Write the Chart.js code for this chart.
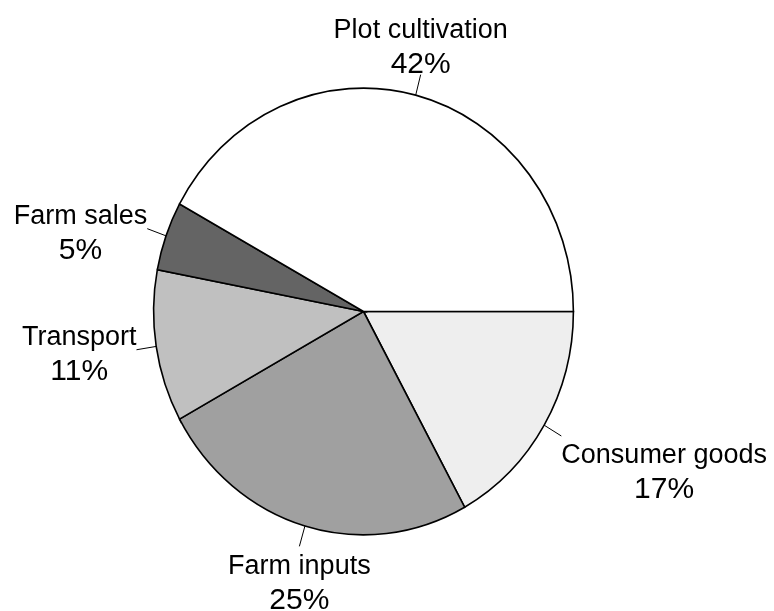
<!DOCTYPE html>
<html>
<head>
<meta charset="utf-8">
<script src="https://cdn.jsdelivr.net/npm/chart.js@4.4.0/dist/chart.umd.min.js"></script>
<style>
  html, body { margin: 0; padding: 0; background: #fff; }
  #wrap { width: 774px; height: 611px; position: relative; }
</style>
</head>
<body>
<div id="wrap"><canvas id="pie" width="774" height="611"></canvas></div>
<script>
// slices in the order they run counterclockwise from 3 o'clock
var categories = ['Plot cultivation', 'Farm sales', 'Transport', 'Farm inputs', 'Consumer goods'];
var shares = [42, 5, 11, 25, 17];
var fills = ['#ffffff', '#646464', '#c0c0c0', '#a0a0a0', '#eeeeee'];

// pie is drawn a bit taller than wide in the reference
var stretchY = 1.064;

// Chart.js goes clockwise, so feed it reversed
var labels = categories.slice().reverse();
var values = shares.slice().reverse();
var colors = fills.slice().reverse();

var stretchPlugin = {
    id: 'stretch',
    beforeDatasetsDraw: function(chart) {
        var arc = chart.getDatasetMeta(0).data[0];
        var ctx = chart.ctx;
        ctx.save();
        ctx.translate(arc.x, arc.y);
        ctx.scale(1, stretchY);
        ctx.translate(-arc.x, -arc.y);
    },
    afterDatasetsDraw: function(chart) {
        chart.ctx.restore();
    }
};

var labelPlugin = {
    id: 'outerLabels',
    afterDraw: function(chart) {
        var ctx = chart.ctx;
        var meta = chart.getDatasetMeta(0);
        var total = values.reduce(function(a, b) { return a + b; }, 0);
        meta.data.forEach(function(arc, i) {
            var mid = (arc.startAngle + arc.endAngle) / 2;
            var r = arc.outerRadius;
            var c = Math.cos(mid), s = Math.sin(mid);
            var x0 = arc.x + r * c, y0 = arc.y + r * stretchY * s;
            var x1 = arc.x + r * 1.095 * c, y1 = arc.y + r * 1.095 * stretchY * s;

            ctx.save();
            ctx.strokeStyle = '#000';
            ctx.lineWidth = 1;
            ctx.beginPath();
            ctx.moveTo(x0, y0);
            ctx.lineTo(x1, y1);
            ctx.stroke();

            var name = labels[i];
            var pct = Math.round(values[i] / total * 100) + '%';
            var nameFont = '27px "Liberation Sans", Arial, sans-serif';
            var pctFont = '30px "Liberation Sans", Arial, sans-serif';
            ctx.font = nameFont;
            var wName = ctx.measureText(name).width;
            ctx.font = pctFont;
            var wPct = ctx.measureText(pct).width;
            var w = Math.max(wName, wPct);

            var cx;
            if (c > 0.5) cx = x1 + w / 2;
            else if (c < -0.5) cx = x1 - w / 2;
            else cx = x1;

            var base;
            if (s > 0.4) base = y1 + 27.5;
            else if (s < -0.4) base = y1 - 37;
            else base = y1 - 4.5;

            ctx.fillStyle = '#000';
            ctx.textAlign = 'center';
            ctx.textBaseline = 'alphabetic';
            ctx.font = nameFont;
            ctx.fillText(name, cx, base);
            ctx.font = pctFont;
            ctx.fillText(pct, cx, base + 35);
            ctx.restore();
        });
    }
};

new Chart(document.getElementById('pie'), {
    type: 'pie',
    data: {
        labels: labels,
        datasets: [{
            data: values,
            backgroundColor: colors,
            borderColor: '#000',
            borderWidth: 1.6,
            borderJoinStyle: 'miter',
            clip: false
        }]
    },
    options: {
        responsive: false,
        animation: false,
        rotation: 90,
        layout: {
            padding: { left: 152.8, right: 199.8, top: 100.8, bottom: 88.8 }
        },
        plugins: {
            legend: { display: false },
            tooltip: { enabled: false }
        }
    },
    plugins: [stretchPlugin, labelPlugin]
});
</script>
</body>
</html>
